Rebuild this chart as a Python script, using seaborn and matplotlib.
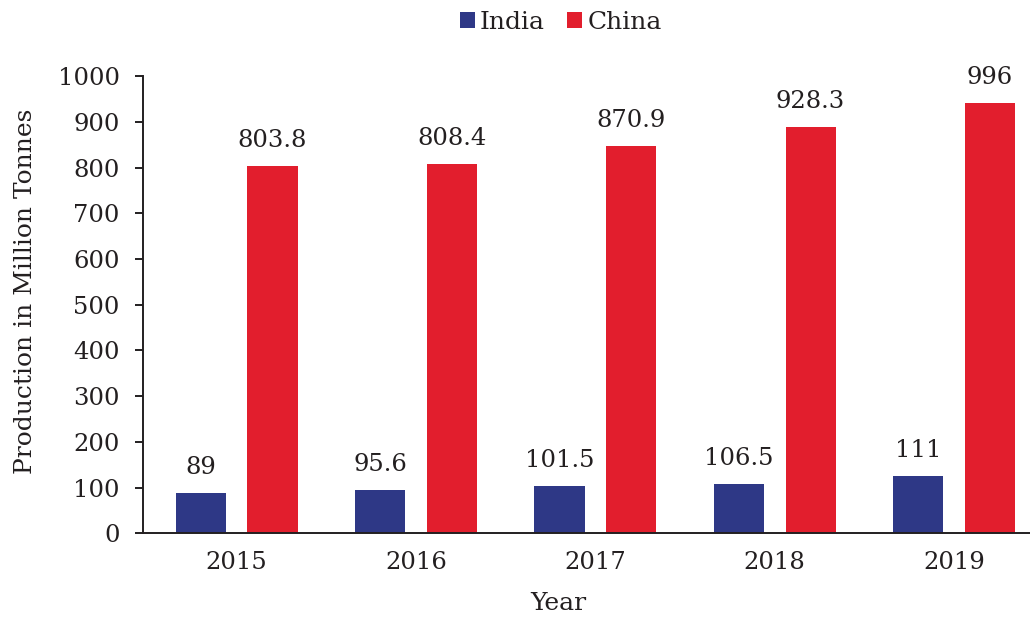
import matplotlib
matplotlib.use("Agg")
import matplotlib.pyplot as plt
import pandas as pd
import seaborn as sns

years = ["2015", "2016", "2017", "2018", "2019"]
india = [89, 95.6, 103, 108, 124.5]
china = [803.8, 808.4, 847, 890, 941]
india_labels = ["89", "95.6", "101.5", "106.5", "111"]
china_labels = ["803.8", "808.4", "870.9", "928.3", "996"]
y_ticks = [0, 100, 200, 300, 400, 500, 600, 700, 800, 900, 1000]


def main():
    sns.set_theme(style="white")
    text_col = "#231F20"
    plt.rcParams['font.family'] = ['DejaVu Serif']
    plt.rcParams['text.color'] = text_col
    plt.rcParams['axes.labelcolor'] = text_col
    plt.rcParams['xtick.color'] = text_col
    plt.rcParams['ytick.color'] = text_col

    df = pd.DataFrame({
        "Year": years * 2,
        "Country": ["India"] * len(years) + ["China"] * len(years),
        "Production": india + china,
    })
    palette = {"India": "#2E3886", "China": "#E21E2D"}

    fig = plt.figure(figsize=(10.3, 6.2), dpi=100)
    ax = fig.add_axes([0.139, 0.140, 0.861, 0.737])
    sns.barplot(data=df, x="Year", y="Production", hue="Country", palette=palette,
                width=0.8, gap=0.3, saturation=1, linewidth=0, ax=ax)

    for cont, labs in zip(ax.containers, [india_labels, china_labels]):
        ax.bar_label(cont, labels=labs, padding=10, fontsize=17.5, color=text_col)

    ax.set_ylim(0, 1000)
    ax.set_xlim(-0.521, 4.423)
    ax.set_yticks(y_ticks)
    sns.despine(ax=ax)
    for side in ["left", "bottom"]:
        ax.spines[side].set_color(text_col)
        ax.spines[side].set_linewidth(1.4)
    ax.tick_params(axis="y", length=6, width=1.4, pad=11, labelsize=17.5, left=True)
    ax.tick_params(axis="x", length=0, pad=13, labelsize=17.5)

    ax.set_ylabel("Production in Million Tonnes", fontsize=18)
    ax.set_xlabel("Year", fontsize=18)
    ax.yaxis.set_label_coords(-0.12, 0.53)
    ax.xaxis.set_label_coords(0.468, -0.128)

    handles, labels = ax.get_legend_handles_labels()
    ax.legend(handles, labels, loc="center", bbox_to_anchor=(0.471, 1.118), ncol=2,
              frameon=False, fontsize=18, handlelength=0.6, handleheight=0.6,
              handletextpad=0.2, columnspacing=0.9)

    fig.savefig("out.png", dpi=100)


if __name__ == "__main__":
    main()
